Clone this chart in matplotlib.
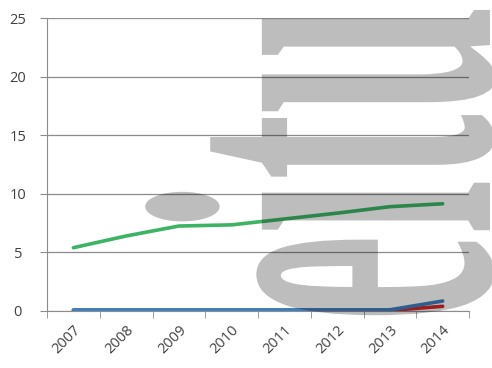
import matplotlib
matplotlib.use('Agg')
import matplotlib.pyplot as plt
from matplotlib.textpath import TextPath
from matplotlib.font_manager import FontProperties
from matplotlib.patches import PathPatch
from matplotlib.transforms import Affine2D, IdentityTransform
import numpy as np

# data
years = ['2007', '2008', '2009', '2010', '2011', '2012', '2013', '2014']
green = [5.4, 6.4, 7.25, 7.35, 7.85, 8.35, 8.9, 9.15]
blue = [0.1, 0.1, 0.1, 0.1, 0.1, 0.1, 0.1, 0.85]
red = [0.05, 0.05, 0.05, 0.05, 0.05, 0.05, 0.05, 0.4]

plt.rcParams['font.family'] = ['Open Sans', 'DejaVu Sans']

fig = plt.figure(figsize=(4.92, 3.68), dpi=100)
ax = fig.add_axes([47 / 492, 57 / 368, 422 / 492, 293 / 368])

x = np.arange(len(years))
ax.plot(x, red, color='#d62728', lw=2.6, solid_capstyle='round', zorder=3)
ax.plot(x, blue, color='#3f7fbf', lw=2.6, solid_capstyle='round', zorder=4)
ax.plot(x, green, color='#3cb464', lw=2.6, solid_capstyle='round', zorder=5)

ax.set_xlim(-0.5, 7.5)
ax.set_ylim(0, 25)
ax.set_yticks([0, 5, 10, 15, 20, 25])
ax.yaxis.grid(True, color='#8c8c8c', lw=0.9)
ax.set_axisbelow(True)

ax.set_xticks(x)
ax.set_xticklabels(years, rotation=45, ha='right', va='top', rotation_mode='anchor')
ax.set_xticks(np.arange(-0.5, 8, 1), minor=True)
ax.tick_params(axis='x', which='major', length=0, pad=8, labelsize=10.5, labelcolor='#404040')
ax.tick_params(axis='x', which='minor', length=5, color='#8c8c8c', direction='out')
ax.tick_params(axis='y', length=5, color='#8c8c8c', labelsize=10.5, labelcolor='#404040', pad=16)
for lbl in ax.get_yticklabels():
    lbl.set_ha('center')

for s in ['top', 'right']:
    ax.spines[s].set_visible(False)
ax.spines['left'].set_color('#8c8c8c')
ax.spines['bottom'].set_color('#8c8c8c')

# watermark, rotated and squeezed
fp = FontProperties(family='Liberation Serif', weight='bold')
tp = TextPath((0, 0), 'eitu', size=1, prop=fp)
tr = Affine2D().scale(197, 497).rotate_deg(90).translate(490, 46)
wm = PathPatch(tr.transform_path(tp), transform=IdentityTransform(),
               facecolor='black', edgecolor='none', alpha=0.26, zorder=10)
fig.add_artist(wm)

fig.savefig('out.png', dpi=100)
